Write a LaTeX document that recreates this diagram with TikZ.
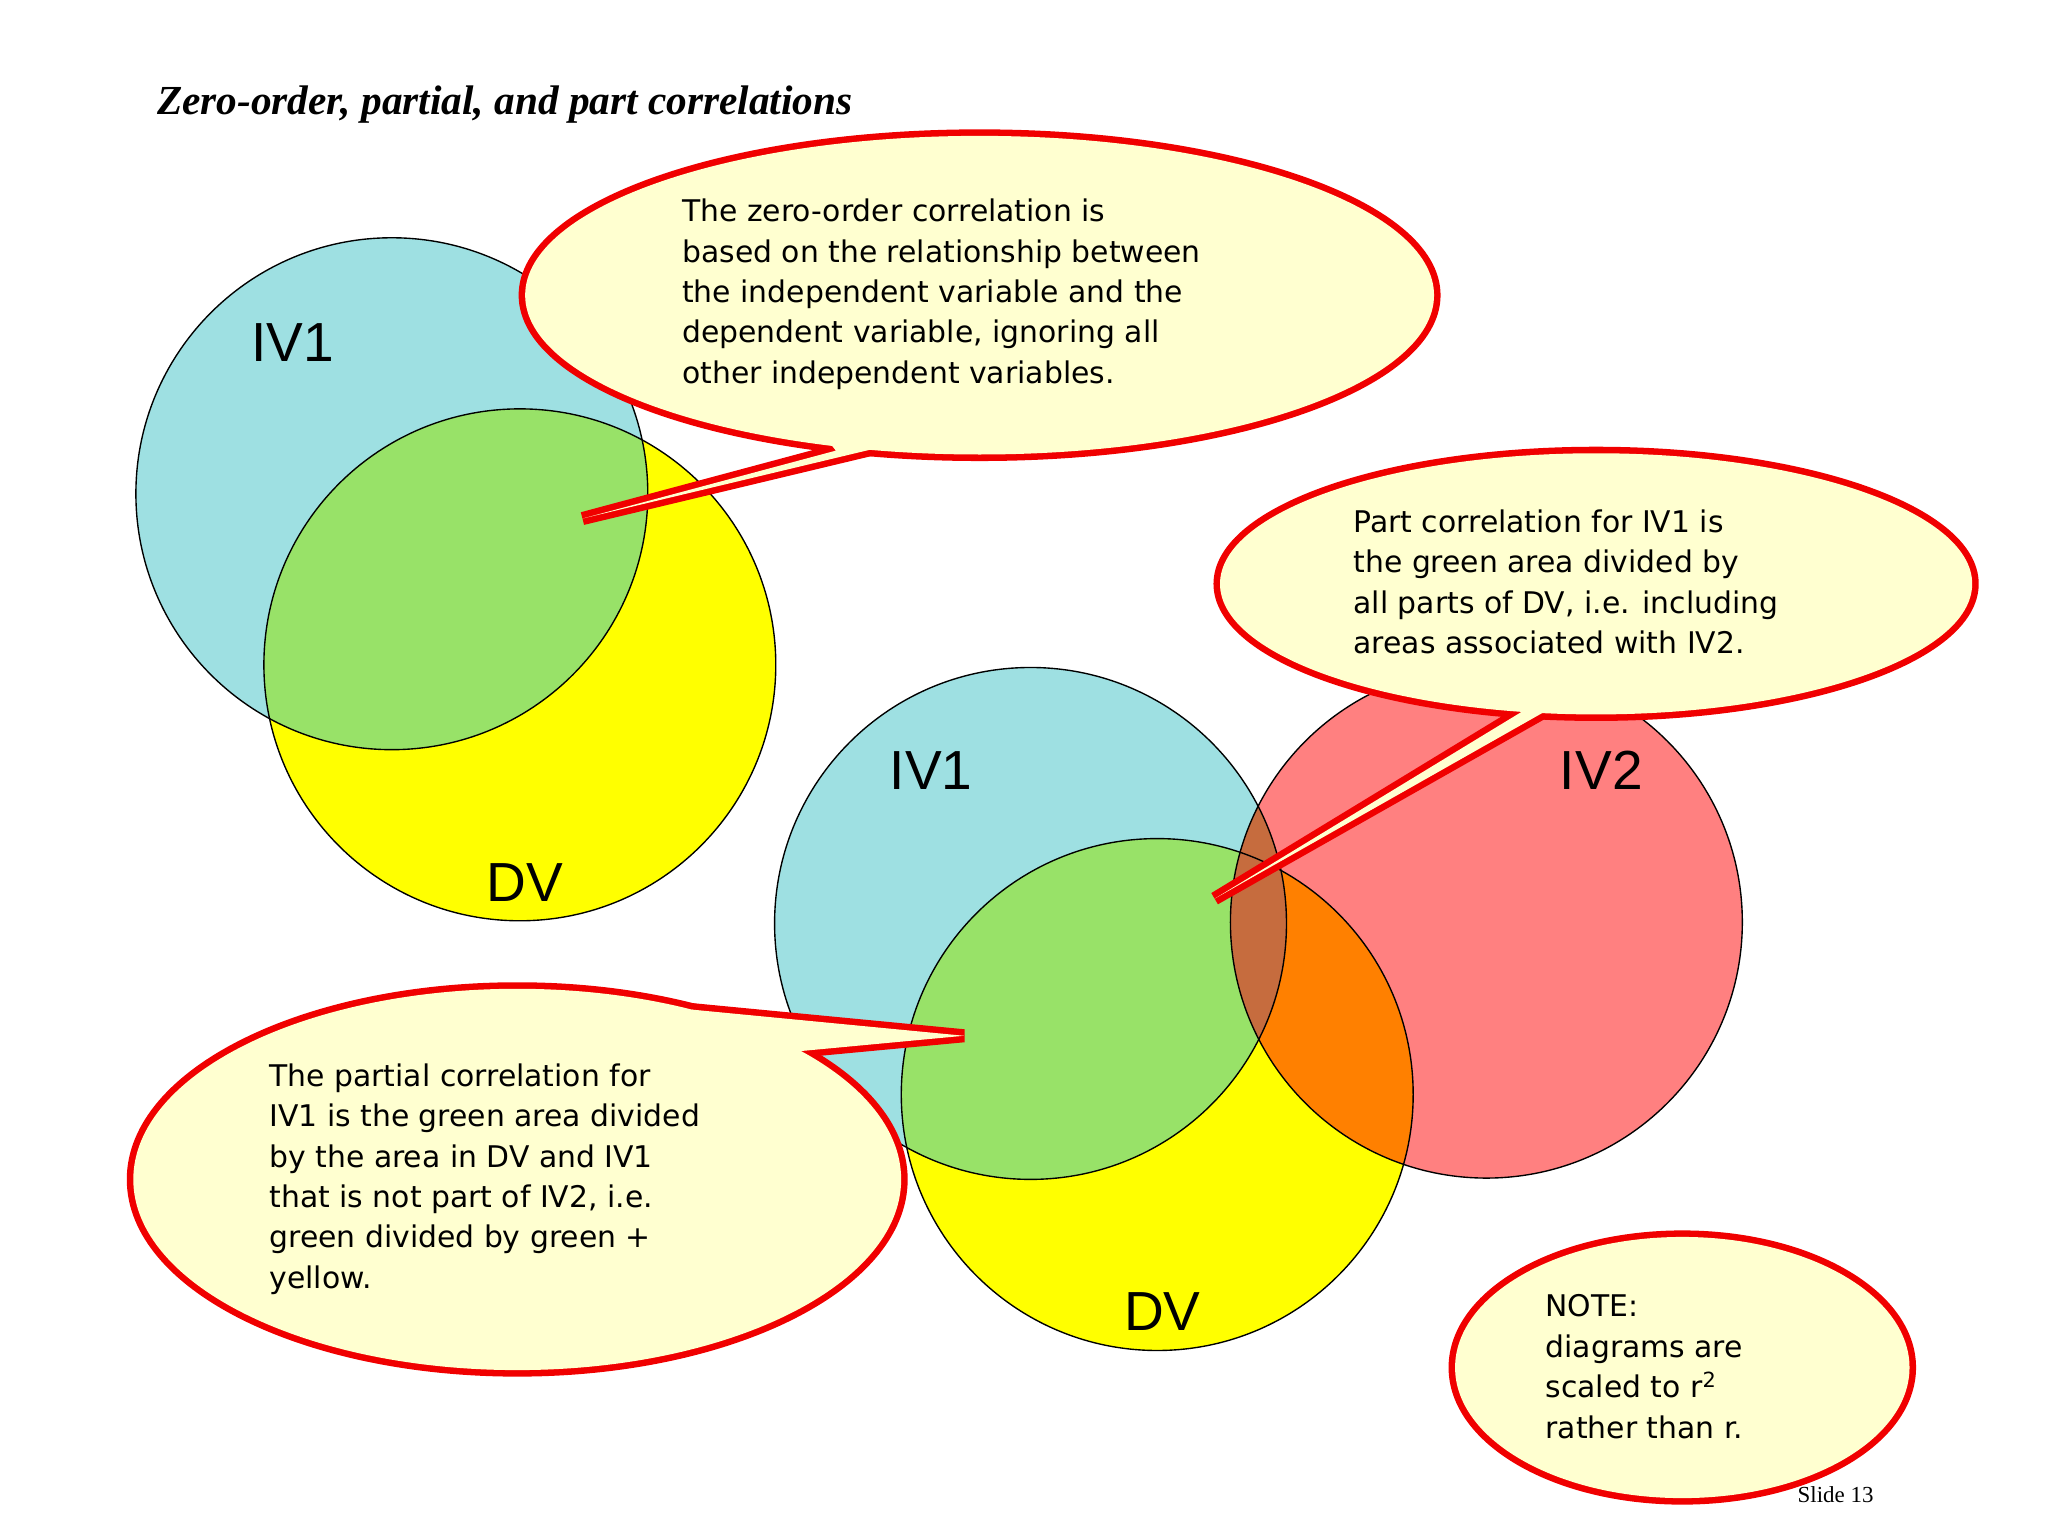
\documentclass[tikz,border=0pt]{standalone}
\usepackage{fontspec}
\setmainfont{Liberation Serif}
\newfontfamily\callfont{DejaVu Sans}
\newfontfamily\labfont{Liberation Sans}
\usetikzlibrary{positioning}
\definecolor{ivblue}{RGB}{158,224,226}
\definecolor{dvyellow}{RGB}{255,255,0}
\definecolor{ovgreen}{RGB}{152,226,104}
\definecolor{ivred}{RGB}{255,128,128}
\definecolor{ovorange}{RGB}{255,128,0}
\definecolor{ovbrown}{RGB}{198,108,62}
\definecolor{callfill}{RGB}{255,255,208}
\definecolor{callred}{RGB}{240,0,0}
\begin{document}
\begin{tikzpicture}[x=0.02cm, y=-0.02cm,
    venn/.style ={draw=black, line width=0.6pt},
    label/.style ={font=\labfont\fontsize{24}{28}\selectfont},
    calltext/.style ={font=\callfont\fontsize{13}{17.6}\selectfont, align=left, anchor=north west, inner sep=0pt},
    rim/.style ={draw=callred, line width=0.2cm, line join=miter},
]
\useasboundingbox (0,0) rectangle (1568,1176);

% Title
\node [anchor=base west, inner sep=0pt, font=\fontsize{18}{22}\selectfont\bfseries\itshape] (title) at (120,88) {Zero-order, partial, and part correlations};
\node [anchor=base west, inner sep=0pt, font=\fontsize{10}{12}\selectfont] (slide) at (1376,1150) {Slide 13};

% Circles
\coordinate (ivA) at (300,378);
\coordinate (dvA) at (398,509);
\coordinate (ivB) at (789,707);
\coordinate (dvB) at (886,838);
\coordinate (ivC) at (1138,706);
\def\rad{3.92cm}

% Top pair
\fill [ivblue] (ivA) circle (\rad);
\fill [dvyellow] (dvA) circle (\rad);
\begin{scope}
  \clip (ivA) circle (\rad);
  \fill [ovgreen] (dvA) circle (\rad);
\end{scope}
\draw [venn] (ivA) circle (\rad);
\draw [venn] (dvA) circle (\rad);

% Bottom triple
\fill [ivblue] (ivB) circle (\rad);
\fill [ivred] (ivC) circle (\rad);
\fill [dvyellow] (dvB) circle (\rad);
\begin{scope}
  \clip (ivB) circle (\rad);
  \fill [ovgreen] (dvB) circle (\rad);
\end{scope}
\begin{scope}
  \clip (ivC) circle (\rad);
  \fill [ovorange] (dvB) circle (\rad);
\end{scope}
\begin{scope}
  \clip (ivB) circle (\rad);
  \fill [ovbrown] (ivC) circle (\rad);
\end{scope}
\draw [venn] (ivB) circle (\rad);
\draw [venn] (ivC) circle (\rad);
\draw [venn] (dvB) circle (\rad);

% Labels
\node [label] (labA1) at (224,262) {IV1};
\node [label] (labA2) at (402,676) {DV};
\node [label] (labB1) at (713,590) {IV1};
\node [label] (labB2) at (890,1004) {DV};
\node [label] (labC) at (1226,590) {IV2};

% Callouts
\coordinate (tipA) at (446,397);
\coordinate (tipB) at (930,688);
\coordinate (tipC) at (738,793);
\path [rim] (750,226) ellipse [x radius=6.96cm, y radius=2.44cm];
\path [rim] (620,320) -- (640,345) -- (tipA) -- (705,335) -- cycle;
\fill [callfill] (750,226) ellipse [x radius=6.96cm, y radius=2.44cm];
\fill [callfill] (620,320) -- (640,345) -- (tipA) -- (705,335) -- cycle;

\path [rim] (1222,447) ellipse [x radius=5.76cm, y radius=2.0cm];
\path [rim] (1150,520) -- (1165,545) -- (tipB) -- (1200,535) -- cycle;
\fill [callfill] (1222,447) ellipse [x radius=5.76cm, y radius=2.0cm];
\fill [callfill] (1150,520) -- (1165,545) -- (tipB) -- (1200,535) -- cycle;

\path [rim] (396,903) ellipse [x radius=5.88cm, y radius=2.92cm];
\path [rim] (520,790) -- (530,773) -- (tipC) -- (610,805) -- (590,820) -- cycle;
\fill [callfill] (396,903) ellipse [x radius=5.88cm, y radius=2.92cm];
\fill [callfill] (520,790) -- (530,773) -- (tipC) -- (610,805) -- (590,820) -- cycle;

\path [rim] (1288,1047) ellipse [x radius=3.48cm, y radius=2.0cm];
\fill [callfill] (1288,1047) ellipse [x radius=3.48cm, y radius=2.0cm];

% Callout texts
\node [calltext] (zero) at (522,152) {The zero-order correlation is\\based on the relationship between\\the independent variable and the\\dependent variable, ignoring all\\other independent variables.};
\node [calltext] (part) at (1036,390) {Part correlation for IV1 is\\the green area divided by\\all parts of DV, i.e. including\\areas associated with IV2.};
\node [calltext] (partial) at (206,814) {The partial correlation for\\IV1 is the green area divided\\by the area in DV and IV1\\that is not part of IV2, i.e.\\green divided by green +\\yellow.};
\node [calltext] (note) at (1183,991) {NOTE:\\diagrams are\\scaled to r\textsuperscript{2}\\rather than r.};
\end{tikzpicture}
\end{document}
